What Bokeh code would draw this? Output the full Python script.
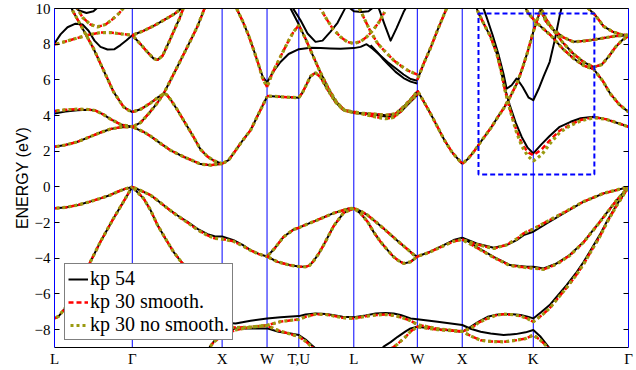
from bokeh.plotting import figure
from bokeh.models import Range1d, FixedTicker, LinearAxis, Span, Legend, LegendItem
from bokeh.embed import file_html
from bokeh.resources import INLINE

# ---------------- k-path (units of 2*pi/a) ----------------
TICK_K = [0.0, 0.866, 1.866, 2.366, 2.72, 3.332, 4.039, 4.539, 5.33, 6.39]
TICK_LABELS = ["L", "\u0393", "X", "W", "T,U", "L", "W", "X", "K", "\u0393"]
Y_TICKS = [-8, -6, -4, -2, 0, 2, 4, 6, 8, 10]
E_MIN, E_MAX = -9, 10

# zoom box (k, E)
BOX_K = [4.72, 6.01]
BOX_E = [0.7, 9.72]

# ---------------- valence bands ----------------
K_v_lg3 = [0, .122, .256, .379, .512, .624, .702, .791, .866]
E_v_lg3 = [-1.2, -1.15, -1.02, -0.85, -0.64, -0.45, -0.27, -0.1, 0.0]

K_v_lg2 = [0, .045, .111, .200, .290, .379, .512, .657, .768, .824, .866]
E_v_lg2 = [-7.37, -7.25, -6.85, -6.1, -5.3, -4.4, -3.07, -1.76, -0.83, -0.35, 0]

K_v_gxw = [.866, .958, 1.069, 1.158, 1.258, 1.370, 1.481, 1.592, 1.704, 1.782, 1.866, 1.993, 2.094, 2.183, 2.272, 2.366]
E54_v_gxw = [0, -0.2, -0.46, -0.8, -1.2, -1.6, -1.96, -2.35, -2.65, -2.76, -2.78, -2.98, -3.25, -3.54, -3.75, -3.9]
E30_v_gxw = [0, -0.2, -0.46, -0.8, -1.2, -1.62, -2.0, -2.4, -2.72, -2.88, -2.92, -3.05, -3.3, -3.56, -3.76, -3.9]

K_b2 = [.866, .924, .991, 1.069, 1.147, 1.236, 1.325, 1.403, 1.481, 1.570, 1.682, 1.771, 1.866, 2.016, 2.183,
        2.366, 2.516, 2.72, 2.795, 2.906, 3.018, 3.096, 3.207, 3.332, 3.463, 3.575, 3.686, 3.775, 3.853, 3.964,
        4.039, 4.265, 4.539, 4.632, 4.744, 4.855, 5.000, 5.134, 5.245, 5.33, 5.412, 5.512]
E54_b2 = [0, -0.3, -0.64, -1.3, -2.14, -2.9, -3.64, -4.15, -4.6, -5.25, -6.1, -6.9, -7.6, -7.65, -7.5,
          -7.37, -7.3, -7.24, -7.15, -7.09, -7.12, -7.18, -7.28, -7.31, -7.2, -7.09, -7.07, -7.1, -7.18, -7.37,
          -7.42, -7.56, -7.74, -7.95, -8.12, -8.22, -8.3, -8.25, -8.15, -8.02, -8.4, -9.05]
E30_b2 = [0, -0.3, -0.64, -1.3, -2.14, -2.9, -3.64, -4.15, -4.6, -5.3, -6.2, -7.1, -7.85, -7.88, -7.86,
          -7.75, -7.55, -7.42, -7.28, -7.13, -7.15, -7.22, -7.33, -7.37, -7.25, -7.18, -7.15, -7.2, -7.3, -7.5,
          -7.72, -7.95, -8.1, -8.35, -8.6, -8.66, -8.68, -8.6, -8.5, -8.3, -8.6, -9.1]

K_b1a = [1.682, 1.771, 1.866, 2.016, 2.183, 2.366, 2.494, 2.628, 2.72, 2.795, 2.862, 2.918]
E54_b1a = [-9.3, -8.68, -8.2, -7.93, -7.93, -7.93, -8.12, -8.22, -8.3, -8.55, -8.86, -9.1]
E30_b1a = [-9.3, -8.7, -8.35, -8.02, -7.85, -7.78, -8.05, -8.25, -8.39, -8.65, -8.95, -9.2]

K_b1b = [3.630, 3.664, 3.742, 3.820, 3.909, 3.964, 4.039, 4.265, 4.539, 4.632, 4.722, 4.822, 4.911, 5.000, 5.100,
         5.190, 5.267, 5.33, 5.423, 5.512, 5.601, 5.701, 5.802, 5.891, 5.980, 6.069, 6.158, 6.258, 6.325, 6.39]
E54_b1b = [-9.2, -8.95, -8.7, -8.4, -8.1, -7.93, -7.84, -7.98, -8.12, -7.84, -7.55, -7.28, -7.17, -7.13, -7.14,
           -7.18, -7.27, -7.37, -7.0, -6.62, -6.1, -5.5, -4.85, -4.2, -3.45, -2.7, -1.85, -1.0, -0.5, 0]
E30_b1b = [-9.6, -9.3, -9.1, -8.8, -8.4, -8.1, -7.84, -8.0, -8.1, -7.93, -7.6, -7.37, -7.2, -7.13, -7.16,
           -7.24, -7.38, -7.56, -7.2, -6.8, -6.25, -5.65, -4.98, -4.32, -3.55, -2.8, -1.92, -1.05, -0.52, 0]

K_v_wl_up = [2.366, 2.450, 2.550, 2.661, 2.72, 2.773, 2.929, 3.107, 3.263, 3.332]
E_v_wl_up = [-3.9, -3.45, -2.8, -2.39, -2.29, -2.17, -1.85, -1.47, -1.23, -1.2]

K_v_wl_low = [2.366, 2.483, 2.628, 2.72, 2.795, 2.840, 2.884, 2.940, 2.996, 3.107, 3.218, 3.332]
E_v_wl_low = [-3.9, -4.2, -4.39, -4.46, -4.48, -4.4, -4.15, -3.75, -3.26, -2.2, -1.45, -1.2]

K_v_lw_up = [3.332, 3.407, 3.485, 3.575, 3.664, 3.764, 3.853, 3.942, 3.998, 4.039]
E_v_lw_up = [-1.2, -1.35, -1.58, -1.95, -2.33, -2.78, -3.17, -3.55, -3.8, -3.9]

K_v_lw_low = [3.332, 3.407, 3.485, 3.552, 3.630, 3.708, 3.775, 3.820, 3.886, 3.964, 4.039]
E_v_lw_low = [-1.2, -1.48, -1.95, -2.52, -3.08, -3.54, -3.92, -4.1, -4.29, -4.2, -3.9]

K_v_wx = [4.039, 4.176, 4.332, 4.443, 4.539]
E54_v_wx = [-3.9, -3.64, -3.26, -2.98, -2.85]
E30_v_wx = [-3.9, -3.66, -3.3, -3.05, -2.95]

K_v_xk_up = [4.539, 4.699, 4.889, 5.033, 5.156, 5.223, 5.33, 5.479, 5.701, 5.891, 6.113, 6.39]
E54_v_xk_up = [-2.85, -3.17, -3.41, -3.26, -2.95, -2.7, -2.51, -2.04, -1.39, -0.83, -0.36, 0]
E30_v_xk_up = [-2.95, -3.22, -3.45, -3.25, -2.88, -2.6, -2.36, -1.95, -1.35, -0.82, -0.36, 0]

K_v_xk_low = [4.539, 4.699, 4.889, 5.067, 5.256, 5.33, 5.445, 5.590, 5.735, 5.891, 6.069, 6.258, 6.39]
E54_v_xk_low = [-2.85, -3.36, -3.92, -4.38, -4.48, -4.48, -4.57, -4.29, -3.82, -3.08, -1.96, -0.74, 0]
E30_v_xk_low = [-2.95, -3.4, -3.95, -4.4, -4.52, -4.55, -4.62, -4.33, -3.85, -3.1, -1.98, -0.75, 0]

# ---------------- conduction bands ----------------
K_c_lg1 = [0, .122, .256, .379, .512, .624, .746, .866]
E_c_lg1 = [2.25, 2.35, 2.53, 2.78, 3.05, 3.25, 3.35, 3.37]

K_c_lg2 = [0, .122, .256, .379, .457, .546, .624, .735, .866]
E54_c_lg2 = [4.12, 4.22, 4.3, 4.32, 4.28, 4.05, 3.8, 3.5, 3.37]
E30_c_lg2 = [4.25, 4.32, 4.36, 4.34, 4.28, 4.05, 3.8, 3.5, 3.37]

K_c_gx1 = [.866, .991, 1.069, 1.180, 1.292, 1.437, 1.548, 1.626, 1.737, 1.866]
E_c_gx1 = [3.37, 3.09, 2.85, 2.44, 2.05, 1.69, 1.45, 1.28, 1.22, 1.3]

K_c_gx2 = [.866, .958, 1.069, 1.147, 1.214, 1.247, 1.292, 1.370, 1.459, 1.548, 1.626, 1.704, 1.782, 1.866]
E_c_gx2 = [4.2, 4.35, 4.7, 5.0, 5.22, 5.18, 4.9, 4.3, 3.55, 2.8, 2.1, 1.7, 1.45, 1.3]

K_c_gx3 = [.866, .958, 1.047, 1.136, 1.214, 1.314, 1.414, 1.514, 1.592, 1.670, 1.704]
E_c_gx3 = [3.37, 3.6, 4.1, 4.65, 5.22, 6.2, 7.2, 8.2, 9.0, 10.0, 10.4]

K_c_lgV = [.167, .200, .323, .434, .546, .657, .768, .824, .866]
E_c_lgV = [10.3, 9.9, 8.78, 7.76, 6.54, 5.33, 4.49, 4.3, 4.2]

K_c_lgA = [0, .067, .145, .234, .312, .379, .445, .512, .590, .668, .735, .802, .866]
E54_c_lgA = [8.04, 8.55, 8.95, 9.15, 9.1, 8.75, 8.2, 7.85, 7.7, 7.72, 7.95, 8.22, 8.5]

K_c_lgT = [.178, .267, .356, .434, .512]
E54_c_lgT = [10.3, 9.9, 9.75, 9.85, 10.2]

K_c_lgR = [0, .122, .256, .401, .512, .624, .735, .866]
E30_c_lgR = [7.98, 8.15, 8.35, 8.55, 8.65, 8.65, 8.58, 8.5]

K_c_lgR2 = [.234, .312, .401, .479, .568, .646, .713, .780]
E30_c_lgR2 = [10.2, 9.5, 9.1, 8.97, 9.1, 9.4, 9.7, 10.1]

K_c_gxU1 = [.866, .991, 1.114, 1.236, 1.336, 1.414, 1.448]
E_c_gxU1 = [8.5, 8.75, 9.05, 9.4, 9.7, 10.0, 10.15]

K_c_gxU2 = [.866, .958, 1.036, 1.102, 1.147, 1.203, 1.258, 1.325, 1.392, 1.437, 1.459]
E_c_gxU2 = [8.5, 8.0, 7.55, 7.2, 7.12, 7.35, 7.94, 8.7, 9.44, 10.05, 10.3]

K_c_xw1 = [1.866, 1.938, 1.993, 2.094, 2.183, 2.272, 2.366]
E_c_xw1 = [1.3, 1.5, 1.88, 2.6, 3.18, 4.1, 5.05]

K_c_hump = [2.366, 2.516, 2.72, 2.762, 2.806, 2.851, 2.906, 2.962, 3.040, 3.129, 3.218, 3.332]
E_c_hump = [5.1, 5.05, 5.0, 5.3, 5.75, 6.2, 6.4, 6.15, 5.45, 4.75, 4.3, 4.15]

K54_c_S = [2.606, 2.628, 2.72, 2.795, 2.873, 2.962, 3.051, 3.140, 3.229, 3.332]
E54_c_S = [10.25, 10.0, 9.1, 8.3, 7.4, 6.4, 5.5, 4.75, 4.3, 4.2]
K30_c_S = [2.366, 2.427, 2.516, 2.606, 2.661, 2.72, 2.795, 2.873, 2.962, 3.051, 3.140, 3.229, 3.332]
E30_c_S = [5.6, 6.4, 7.3, 8.2, 8.7, 9.06, 8.3, 7.4, 6.4, 5.5, 4.75, 4.3, 4.2]

K_c_vWl = [1.993, 2.027, 2.094, 2.160, 2.216, 2.272, 2.316, 2.366]
E54_c_vWl = [10.4, 10.0, 9.3, 8.5, 7.7, 6.85, 6.2, 5.85]
E30_c_vWl = [10.4, 10.0, 9.3, 8.5, 7.7, 6.85, 6.1, 5.6]

K_c_vWr = [2.366, 2.427, 2.516, 2.606, 2.72, 2.851, 2.962, 3.073, 3.185, 3.332, 3.407, 3.474, 3.541, 3.630,
           3.708, 3.797, 3.886, 3.964, 4.039]
E54_c_vWr = [5.85, 6.4, 7.0, 7.45, 7.72, 7.8, 7.78, 7.76, 7.75, 7.78, 7.85, 8.0, 7.75, 7.35,
             7.0, 6.65, 6.3, 6.05, 5.95]

K_c_LWb = [3.519, 3.586, 3.652, 3.719, 3.797, 3.886, 3.964, 4.039]
E54_c_LWb = [7.95, 7.6, 7.2, 6.85, 6.45, 6.1, 5.9, 5.8]

K_c_TUL = [2.606, 2.650, 2.739, 2.817, 2.906, 2.984, 3.073, 3.151, 3.229, 3.263]
E54_c_TUL = [10.4, 10.05, 9.34, 8.6, 8.13, 8.2, 8.7, 9.2, 9.95, 10.3]

K_c_Ltop = [3.218, 3.332, 3.418, 3.496, 3.608]
E54_c_Ltop = [10.3, 9.85, 9.8, 9.85, 10.3]

K_c_LV = [3.597, 3.675, 3.742, 3.808, 3.886, 3.931]
E54_c_LV = [10.2, 9.1, 8.2, 8.9, 9.8, 10.2]

K_c_LU = [2.940, 3.018, 3.096, 3.185, 3.263, 3.332, 3.407, 3.474, 3.541, 3.608, 3.675]
E30_c_LU = [10.2, 9.5, 8.88, 8.4, 8.12, 8.04, 8.15, 8.4, 8.75, 9.2, 9.8]

K_c_LWD = [3.385, 3.452, 3.519, 3.597, 3.697, 3.775, 3.853, 3.942, 4.039]
E30_c_LWD = [10.1, 9.4, 8.7, 8.04, 7.5, 7.1, 6.8, 6.5, 6.3]

K_c_LW1 = [3.332, 3.463, 3.575, 3.686, 3.775, 3.853, 3.931, 4.039]
E54_c_LW1 = [4.15, 4.1, 4.05, 3.95, 3.95, 4.2, 4.6, 5.15]
E30_c_LW1 = [4.22, 4.05, 3.92, 3.82, 3.9, 4.22, 4.68, 5.2]

K_c_LW2 = [3.332, 3.463, 3.575, 3.686, 3.797, 3.886, 3.964, 4.039]
E_c_LW2 = [4.15, 4.12, 4.08, 4.02, 4.1, 4.5, 4.9, 5.35]

K_c_WXd = [4.039, 4.098, 4.187, 4.265, 4.343, 4.432, 4.539]
E_c_WXd = [5.4, 4.9, 4.1, 3.35, 2.6, 1.9, 1.3]

K_c_WXu = [4.039, 4.109, 4.187, 4.265, 4.365, 4.399]
E_c_WXu = [6.0, 6.9, 7.8, 8.8, 10.0, 10.4]

K_c_XKr = [4.539, 4.599, 4.666, 4.755, 4.855, 4.933, 5.000, 5.078, 5.156, 5.212, 5.267, 5.33, 5.379, 5.423]
E_c_XKr = [1.3, 1.55, 1.96, 2.6, 3.28, 3.9, 4.4, 5.1, 5.89, 6.7, 7.57, 8.7, 9.44, 10.1]

K_c_F1 = [4.677, 4.722, 4.789, 4.855, 4.922, 4.967, 5.011, 5.067, 5.134, 5.201, 5.267, 5.33, 5.423, 5.512,
          5.624, 5.746, 5.857, 6.002, 6.136, 6.258, 6.39]
E54_c_F1 = [10.3, 9.72, 9.05, 8.41, 7.5, 6.6, 5.6, 4.6, 3.6, 2.8, 2.2, 1.88, 2.4, 2.85,
            3.37, 3.65, 3.85, 3.93, 3.8, 3.6, 3.37]
E30s_c_F1 = [10.3, 9.72, 9.05, 8.41, 7.5, 6.6, 5.5, 4.4, 3.3, 2.45, 1.95, 1.78, 2.1, 2.6,
             3.15, 3.5, 3.75, 3.9, 3.8, 3.6, 3.37]
E30n_c_F1 = [10.3, 9.72, 9.05, 8.41, 7.5, 6.6, 5.5, 4.4, 3.2, 2.3, 1.75, 1.45, 1.8, 2.4,
             3.05, 3.45, 3.7, 3.88, 3.8, 3.6, 3.37]

K_c_F2 = [4.755, 4.811, 4.878, 4.944, 5.000, 5.033, 5.089, 5.145, 5.212, 5.279, 5.33, 5.390, 5.445, 5.512,
          5.568, 5.624, 5.657]
E54_c_F2 = [10.3, 9.5, 8.5, 7.4, 6.3, 5.5, 5.7, 6.08, 5.6, 5.0, 4.86, 5.5, 6.2, 7.0, 8.2, 9.6, 10.3]

K_c_KUa = [5.212, 5.279, 5.357, 5.523, 5.657, 5.779, 5.891, 6.002, 6.102, 6.191, 6.291, 6.39]
E_c_KUa = [10.3, 9.7, 9.25, 8.5, 7.75, 7.2, 6.8, 6.6, 5.95, 5.2, 4.6, 4.2]

K_c_KUe = [5.390, 5.468, 5.546, 5.657, 5.779, 5.891, 6.002, 6.091, 6.169, 6.247, 6.325, 6.39]
E_c_KUe = [10.3, 9.45, 8.85, 8.1, 7.45, 7.0, 6.72, 6.85, 7.3, 7.85, 8.25, 8.45]

K_c_KUd = [5.390, 5.468, 5.546, 5.657, 5.779, 5.935, 6.080, 6.236, 6.39]
E_c_KUd = [10.2, 9.3, 8.85, 8.4, 8.13, 8.2, 8.32, 8.45, 8.5]

K_c_KUc = [5.924, 6.024, 6.113, 6.213, 6.303, 6.39]
E_c_KUc = [10.1, 9.6, 9.0, 8.7, 8.55, 8.5]

# ---------------- assemble series ----------------
kp54 = [
    (K_v_lg3, E_v_lg3), (K_v_lg2, E_v_lg2), (K_v_gxw, E54_v_gxw), (K_b2, E54_b2), (K_b1a, E54_b1a),
    (K_b1b, E54_b1b), (K_v_wl_up, E_v_wl_up), (K_v_wl_low, E_v_wl_low), (K_v_lw_up, E_v_lw_up),
    (K_v_lw_low, E_v_lw_low), (K_v_wx, E54_v_wx), (K_v_xk_up, E54_v_xk_up), (K_v_xk_low, E54_v_xk_low),
    (K_c_lg1, E_c_lg1), (K_c_lg2, E54_c_lg2), (K_c_gx1, E_c_gx1), (K_c_gx2, E_c_gx2), (K_c_gx3, E_c_gx3),
    (K_c_lgV, E_c_lgV), (K_c_lgA, E54_c_lgA), (K_c_lgT, E54_c_lgT), (K_c_gxU1, E_c_gxU1),
    (K_c_gxU2, E_c_gxU2), (K_c_xw1, E_c_xw1), (K_c_hump, E_c_hump), (K54_c_S, E54_c_S),
    (K_c_vWl, E54_c_vWl), (K_c_vWr, E54_c_vWr), (K_c_LWb, E54_c_LWb), (K_c_TUL, E54_c_TUL),
    (K_c_Ltop, E54_c_Ltop), (K_c_LV, E54_c_LV), (K_c_LW1, E54_c_LW1), (K_c_LW2, E_c_LW2),
    (K_c_WXd, E_c_WXd), (K_c_WXu, E_c_WXu), (K_c_XKr, E_c_XKr), (K_c_F1, E54_c_F1), (K_c_F2, E54_c_F2),
    (K_c_KUa, E_c_KUa), (K_c_KUe, E_c_KUe), (K_c_KUd, E_c_KUd), (K_c_KUc, E_c_KUc),
]
kp30_common = [
    (K_v_lg3, E_v_lg3), (K_v_lg2, E_v_lg2), (K_v_gxw, E30_v_gxw), (K_b2, E30_b2), (K_b1a, E30_b1a),
    (K_b1b, E30_b1b), (K_v_wl_up, E_v_wl_up), (K_v_wl_low, E_v_wl_low), (K_v_lw_up, E_v_lw_up),
    (K_v_lw_low, E_v_lw_low), (K_v_wx, E30_v_wx), (K_v_xk_up, E30_v_xk_up), (K_v_xk_low, E30_v_xk_low),
    (K_c_lg1, E_c_lg1), (K_c_lg2, E30_c_lg2), (K_c_gx1, E_c_gx1), (K_c_gx2, E_c_gx2), (K_c_gx3, E_c_gx3),
    (K_c_lgV, E_c_lgV), (K_c_lgR, E30_c_lgR), (K_c_lgR2, E30_c_lgR2), (K_c_gxU1, E_c_gxU1),
    (K_c_gxU2, E_c_gxU2), (K_c_xw1, E_c_xw1), (K_c_hump, E_c_hump), (K30_c_S, E30_c_S),
    (K_c_vWl, E30_c_vWl), (K_c_LU, E30_c_LU), (K_c_LWD, E30_c_LWD), (K_c_LW1, E30_c_LW1),
    (K_c_LW2, E_c_LW2), (K_c_WXd, E_c_WXd), (K_c_WXu, E_c_WXu), (K_c_XKr, E_c_XKr),
    (K_c_KUa, E_c_KUa), (K_c_KUe, E_c_KUe), (K_c_KUd, E_c_KUd), (K_c_KUc, E_c_KUc),
]
kp30_smooth = kp30_common + [(K_c_F1, E30s_c_F1)]
kp30_nosmooth = kp30_common + [(K_c_F1, E30n_c_F1)]

# ---------------- figure ----------------
p = figure(width=636, height=370, output_backend="svg", toolbar_location=None,
           x_range=Range1d(TICK_K[0], TICK_K[-1]), y_range=Range1d(E_MIN, E_MAX),
           min_border_left=54, min_border_right=8, min_border_top=8, min_border_bottom=23)
p.outline_line_color = None
p.xgrid.visible = False
p.ygrid.visible = False
p.background_fill_color = "white"
p.border_fill_color = "white"

SERIF = "Liberation Serif"

# x axis
p.xaxis.ticker = FixedTicker(ticks=TICK_K)
p.xaxis.major_label_overrides = {k: lab for k, lab in zip(TICK_K, TICK_LABELS)}
p.xaxis.major_tick_in = 0
p.xaxis.major_tick_out = 0
p.xaxis.minor_tick_line_color = None
p.xaxis.axis_line_color = "black"
p.xaxis.major_label_text_font = SERIF
p.xaxis.major_label_text_font_size = "15px"
p.xaxis.major_label_text_color = "black"
p.xaxis.major_label_standoff = 3

# y axis
y_over = {v: (str(v).replace("-", "\u2212")) for v in Y_TICKS}
p.yaxis.ticker = FixedTicker(ticks=Y_TICKS)
p.yaxis.major_label_overrides = y_over
p.yaxis.major_tick_in = 5
p.yaxis.major_tick_out = 0
p.yaxis.minor_tick_line_color = None
p.yaxis.axis_line_color = "blue"
p.yaxis.major_tick_line_color = "black"
p.yaxis.major_label_text_font = SERIF
p.yaxis.major_label_text_font_size = "15px"
p.yaxis.major_label_text_color = "black"
p.yaxis.major_label_standoff = 4
p.yaxis.axis_label = "ENERGY (eV)"
p.yaxis.axis_label_text_font = "Liberation Sans"
p.yaxis.axis_label_text_font_size = "16px"
p.yaxis.axis_label_text_font_style = "normal"
p.yaxis.axis_label_text_color = "black"
p.yaxis.axis_label_standoff = 1

right_ax = LinearAxis(ticker=FixedTicker(ticks=Y_TICKS), major_tick_in=5, major_tick_out=0,
                      minor_tick_line_color=None, axis_line_color="blue",
                      major_label_text_color=None, major_label_standoff=0)
p.add_layout(right_ax, "right")
top_ax = LinearAxis(ticker=FixedTicker(ticks=[]), major_tick_in=0, major_tick_out=0,
                    minor_tick_line_color=None, axis_line_color="black",
                    major_label_text_color=None, major_label_standoff=0)
p.add_layout(top_ax, "above")

# vertical high-symmetry lines
for kv in TICK_K[1:-1]:
    p.add_layout(Span(location=kv, dimension="height", line_color="blue", line_width=1, level="underlay"))

r54 = p.multi_line([c[0] for c in kp54], [c[1] for c in kp54], line_color="black", line_width=2,
                   line_join="round")
r30s = p.multi_line([c[0] for c in kp30_smooth], [c[1] for c in kp30_smooth], line_color="#ff0000",
                    line_width=2.5, line_dash="5 3")
r30n = p.multi_line([c[0] for c in kp30_nosmooth], [c[1] for c in kp30_nosmooth], line_color="#9a9a10",
                    line_width=3.2, line_dash="3 3", line_dash_offset=4)

p.quad(left=[BOX_K[0]], right=[BOX_K[1]], bottom=[BOX_E[0]], top=[BOX_E[1]], fill_color=None,
       line_color="blue", line_width=2, line_dash="5 3")

legend = Legend(items=[LegendItem(label="kp 54", renderers=[r54]),
                       LegendItem(label="kp 30 smooth.", renderers=[r30s]),
                       LegendItem(label="kp 30 no smooth.", renderers=[r30n])],
                location=(10, 7), border_line_color="black", border_line_width=1,
                background_fill_color="white", background_fill_alpha=1,
                label_text_font=SERIF, label_text_font_size="20px", label_text_color="black",
                glyph_width=20, glyph_height=22, label_height=22, spacing=0, padding=3, margin=0,
                label_standoff=2)
p.add_layout(legend)

open("out.html", "w").write(file_html(p, INLINE))
